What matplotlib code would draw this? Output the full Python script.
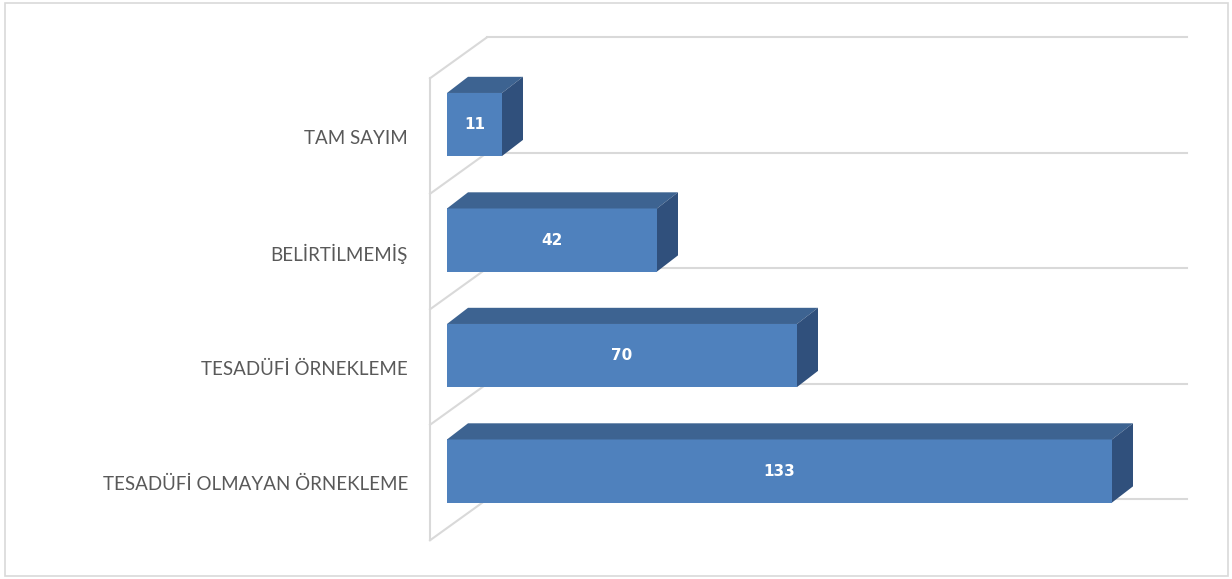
import matplotlib.pyplot as plt
from matplotlib.patches import Polygon, Rectangle

# Data (bottom to top)
categories = ["TESADÜFİ OLMAYAN ÖRNEKLEME", "TESADÜFİ ÖRNEKLEME", "BELİRTİLMEMİŞ", "TAM SAYIM"]
values = [133, 70, 42, 11]

# Colours
front_col = "#4F81BD"
top_col = "#3D6391"
side_col = "#30507C"
grid_col = "#D9D9D9"
label_col = "#595959"

# 3D look parameters (data units)
bar_half = 0.273
depth_dx, depth_dy = 4.2, 0.14
wall_front_x, wall_back_x = -3.4, 8.0
wall_dy = 0.355
grid_end = 148

fig = plt.figure(figsize=(12.32, 5.79), dpi=100)
ax = fig.add_axes([0, 0, 1, 1])
ax.set_xlim(-89.4, 157)
ax.set_ylim(-0.935, 4.078)
ax.axis("off")

# back wall / category separators
bounds = [i - 0.6 for i in range(len(categories) + 1)]
ax.plot([wall_front_x, wall_front_x], [bounds[0], bounds[-1]], color=grid_col, lw=1.5, zorder=1)
for b in bounds:
    ax.plot([wall_front_x, wall_back_x], [b, b + wall_dy], color=grid_col, lw=1.5, zorder=1)
    ax.plot([wall_back_x, grid_end], [b + wall_dy, b + wall_dy], color=grid_col, lw=1.5, zorder=1)

# bars
for i, (cat, v) in enumerate(zip(categories, values)):
    bot, top = i - bar_half, i + bar_half
    ax.barh(i, v, height=2 * bar_half, left=0, color=front_col, zorder=3)
    ax.add_patch(Polygon([(0, top), (v, top), (v + depth_dx, top + depth_dy), (depth_dx, top + depth_dy)],
                         closed=True, facecolor=top_col, edgecolor="none", zorder=3))
    ax.add_patch(Polygon([(v, bot), (v, top), (v + depth_dx, top + depth_dy), (v + depth_dx, bot + depth_dy)],
                         closed=True, facecolor=side_col, edgecolor="none", zorder=3))
    ax.text(v / 2, i, str(v), color="white", fontsize=11, fontweight="bold",
            ha="center", va="center", family="DejaVu Sans", zorder=4)
    ax.text(-7.8, i - 0.12, cat, color=label_col, fontsize=13.5, ha="right", va="center",
            family="Lato", zorder=4)

# outer border
fig.patches.append(Rectangle((5 / 1232, 3 / 579), 1223 / 1232, 573 / 579, transform=fig.transFigure,
                             fill=False, edgecolor=grid_col, lw=1.2))

fig.savefig("out.png", dpi=100)
